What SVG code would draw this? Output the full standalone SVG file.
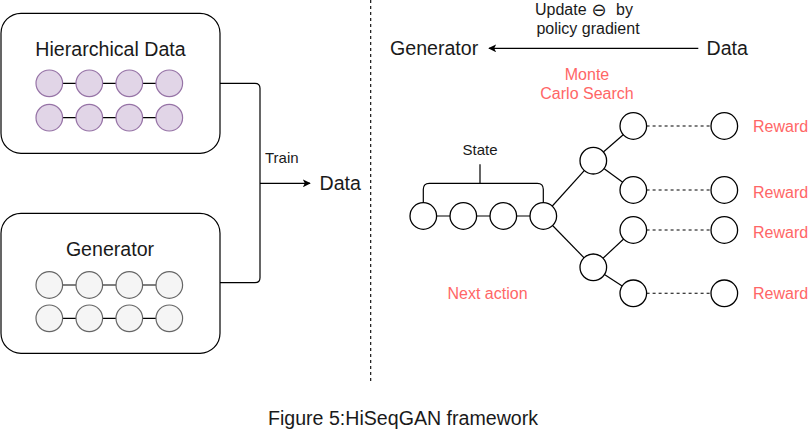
<svg xmlns="http://www.w3.org/2000/svg" width="808" height="431" viewBox="0 0 808 431">
<defs>
<style>
text{font-family:"Liberation Sans",Arial,sans-serif;fill:#1a1a1a}
.big{font-size:19.6px}
.mid{font-size:16px}
.sm{font-size:15px}
.red{font-size:16px;fill:#FF6666}
.box{fill:#fff;stroke:#000;stroke-width:1.2}
.pc{fill:#e1d5e7;stroke:#9673a6;stroke-width:1.2}
.gc{fill:#f5f5f5;stroke:#666;stroke-width:1.2}
.wc{fill:#fff;stroke:#000;stroke-width:1.3}
.ln{fill:none;stroke:#000;stroke-width:1.2}
.dash{fill:none;stroke:#000;stroke-width:1.1;stroke-dasharray:3,3}
</style>
<marker id="ah" viewBox="0 0 10 10" refX="9" refY="5" markerWidth="8" markerHeight="8" markerUnits="userSpaceOnUse" orient="auto">
<path d="M0,0 L10,5 L0,10 L2.5,5 Z" fill="#000"/>
</marker>
</defs>
<rect width="808" height="431" fill="#fff"/>

<g id="connectors">
<path class="ln" d="M220,83.3 H255 Q260,83.3 260,88.3 V277.7 Q260,282.7 255,282.7 H220"/>
<path class="ln" d="M260,183.3 H310" marker-end="url(#ah)"/>
<line x1="370.7" y1="0" x2="370.7" y2="383" class="dash"/>
<path class="ln" d="M698.3,48.3 H489" marker-end="url(#ah)"/>
<line class="ln" x1="423.3" y1="216" x2="543.3" y2="216"/>
<path class="ln" d="M423.3,203 V189.3 Q423.3,183.3 429.3,183.3 H537.3 Q543.3,183.3 543.3,189.3 V203 M480,183.3 V164.3"/>
<line class="ln" x1="543.3" y1="216" x2="593.3" y2="160.7"/>
<line class="ln" x1="543.3" y1="216" x2="593.3" y2="267.3"/>
<line class="ln" x1="593.3" y1="160.7" x2="633.3" y2="126"/>
<line class="ln" x1="593.3" y1="160.7" x2="633.3" y2="190"/>
<line class="ln" x1="593.3" y1="267.3" x2="633.3" y2="230"/>
<line class="ln" x1="593.3" y1="267.3" x2="633.3" y2="293.3"/>
<line class="dash" x1="646.6" y1="126" x2="711" y2="126"/>
<line class="dash" x1="646.6" y1="190" x2="711" y2="190"/>
<line class="dash" x1="646.6" y1="230" x2="711" y2="230"/>
<line class="dash" x1="646.6" y1="293.3" x2="711" y2="293.3"/>
</g>

<g id="hierarchical-data">
<rect class="box" x="1" y="13.3" width="219" height="140" rx="20"/>
<text class="big" x="110.5" y="56" text-anchor="middle">Hierarchical Data</text>
<line class="ln" x1="49" y1="83.3" x2="169" y2="83.3"/>
<line class="ln" x1="49" y1="117.7" x2="169" y2="117.7"/>
<circle class="pc" cx="49.3" cy="83.3" r="13.3"/><circle class="pc" cx="89.3" cy="83.3" r="13.3"/><circle class="pc" cx="129.3" cy="83.3" r="13.3"/><circle class="pc" cx="169.3" cy="83.3" r="13.3"/>
<circle class="pc" cx="49.3" cy="117.7" r="13.3"/><circle class="pc" cx="89.3" cy="117.7" r="13.3"/><circle class="pc" cx="129.3" cy="117.7" r="13.3"/><circle class="pc" cx="169.3" cy="117.7" r="13.3"/>
</g>

<g id="generator-box">
<rect class="box" x="1" y="213.3" width="219" height="140" rx="20"/>
<text class="big" x="110" y="256" text-anchor="middle">Generator</text>
<line class="ln" x1="49" y1="285" x2="169" y2="285"/>
<line class="ln" x1="49" y1="318.3" x2="169" y2="318.3"/>
<circle class="gc" cx="49.3" cy="285" r="13.3"/><circle class="gc" cx="89.3" cy="285" r="13.3"/><circle class="gc" cx="129.3" cy="285" r="13.3"/><circle class="gc" cx="169.3" cy="285" r="13.3"/>
<circle class="gc" cx="49.3" cy="318.3" r="13.3"/><circle class="gc" cx="89.3" cy="318.3" r="13.3"/><circle class="gc" cx="129.3" cy="318.3" r="13.3"/><circle class="gc" cx="169.3" cy="318.3" r="13.3"/>
</g>

<g id="train-label"><text class="sm" x="265" y="163">Train</text></g>
<g id="data-left"><text class="big" x="319.5" y="190">Data</text></g>

<g id="generator-right"><text class="big" x="390" y="55">Generator</text></g>
<g id="data-right"><text class="big" x="706.5" y="55">Data</text></g>
<g id="update-label">
<text class="mid" x="535" y="15">Update</text>
<text x="599" y="16" text-anchor="middle" style="font-family:'DejaVu Sans',sans-serif;font-size:18px">⊖</text>
<text class="mid" x="616" y="15">by</text>
<text class="mid" x="588" y="34" text-anchor="middle">policy gradient</text>
</g>
<g id="mcs-label">
<text class="red" x="587" y="80" text-anchor="middle">Monte</text>
<text class="red" x="587" y="99" text-anchor="middle">Carlo Search</text>
</g>
<g id="state-label"><text class="sm" x="480" y="155" text-anchor="middle">State</text></g>

<g id="state-nodes">
<circle class="wc" cx="423.3" cy="216" r="13.3"/><circle class="wc" cx="463.3" cy="216" r="13.3"/><circle class="wc" cx="503.3" cy="216" r="13.3"/><circle class="wc" cx="543.3" cy="216" r="13.3"/>
</g>
<g id="branch-nodes">
<circle class="wc" cx="593.3" cy="160.7" r="13.3"/><circle class="wc" cx="593.3" cy="267.3" r="13.3"/>
</g>
<g id="leaf-nodes">
<circle class="wc" cx="633.3" cy="126" r="13.3"/><circle class="wc" cx="633.3" cy="190" r="13.3"/><circle class="wc" cx="633.3" cy="230" r="13.3"/><circle class="wc" cx="633.3" cy="293.3" r="13.3"/>
</g>
<g id="reward-nodes">
<circle class="wc" cx="724.3" cy="126" r="13.3"/><circle class="wc" cx="724.3" cy="190" r="13.3"/><circle class="wc" cx="724.3" cy="230" r="13.3"/><circle class="wc" cx="724.3" cy="293.3" r="13.3"/>
</g>
<g id="reward-labels">
<text class="red" x="753" y="132">Reward</text>
<text class="red" x="753" y="198">Reward</text>
<text class="red" x="753" y="238">Reward</text>
<text class="red" x="753" y="298.5">Reward</text>
</g>
<g id="next-action"><text class="red" x="447.5" y="298.5">Next action</text></g>
<g id="caption"><text class="big" x="403" y="425" text-anchor="middle">Figure 5:HiSeqGAN framework</text></g>
</svg>
